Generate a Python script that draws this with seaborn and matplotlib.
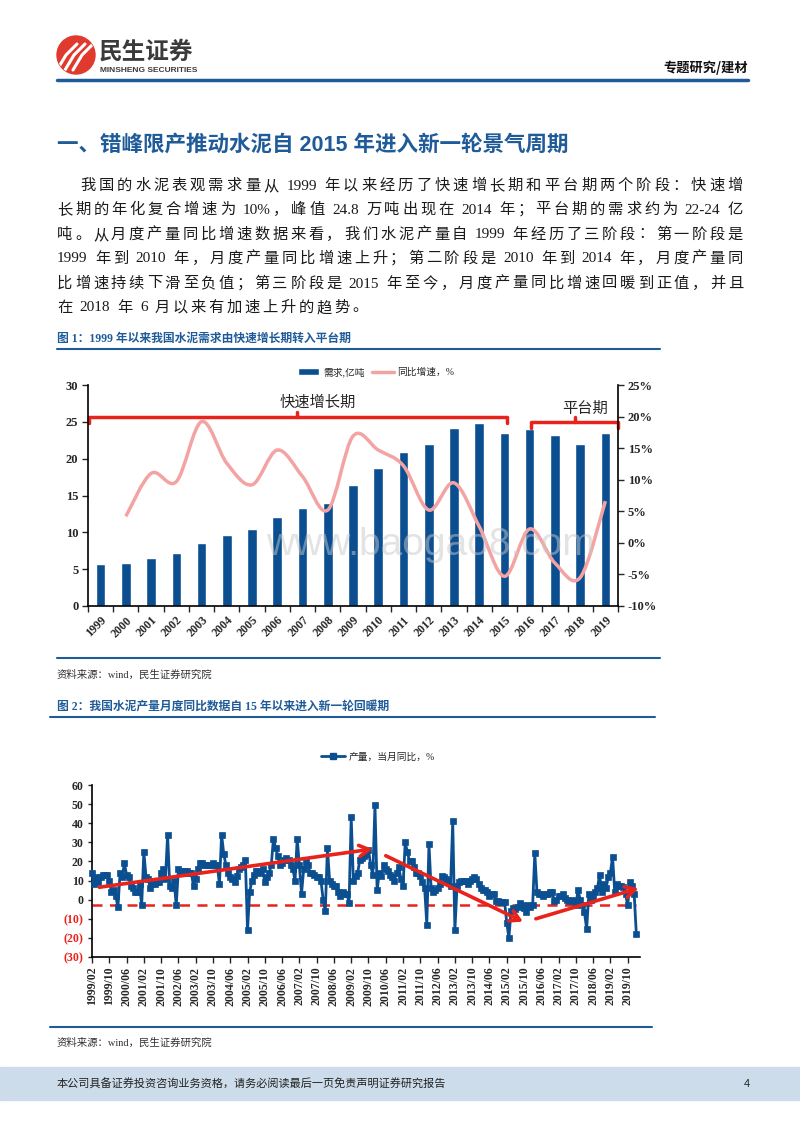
import re
import matplotlib
matplotlib.use("Agg")
import matplotlib.pyplot as plt
import numpy as np
import pandas as pd
import seaborn as sns
from matplotlib.lines import Line2D
from matplotlib.patches import Ellipse, Rectangle, PathPatch, Patch
from matplotlib.path import Path

# ---- chart 1: annual apparent cement demand (亿吨) and yoy growth (%)
years = [str(y) for y in range(1999, 2020)]
demand = [5.65, 5.9, 6.55, 7.2, 8.6, 9.6, 10.5, 12.05, 13.3, 14.0, 16.4,
          18.75, 20.9, 22.0, 24.1, 24.8, 23.5, 24.0, 23.2, 22.0, 23.5]
growth_years = years[1:]
growth = [4.2, 11.0, 9.7, 19.2, 12.6, 9.2, 14.7, 10.5, 5.2, 16.9,
          14.7, 12.2, 5.2, 9.5, 2.6, -5.3, 2.2, -3.2, -5.5, 6.6]

# ---- chart 2: monthly cement output yoy (%), 1999/02 .. 2020/02
monthly_yoy = [
    14, 8, 12, 9, 12, 13, 13, 13, 10, 4, 5,                 # 1999 (Feb-Dec)
    2, -4, 14, 12, 19, 13, 12, 7, 6, 4, 4, 8,                # 2000
    -3, 25, 12, 11, 6, 8, 8, 9, 9, 14, 16, 11,               # 2001
    34, 7, 6, 10, -3, 16, 15, 14, 15, 15, 14, 14,            # 2002
    7, 11, 16, 19, 19, 18, 18, 18, 18, 19, 18, 18,           # 2003
    8, 34, 24, 18, 14, 12, 11, 9, 12.5, 16, 17, 18,          # 2004
    21, -16, 4, 10, 13, 15, 15, 14, 16, 9, 12, 14,           # 2005
    18, 32, 27, 23, 18, 19, 21, 22, 21, 18, 16, 10,          # 2006
    32, 18, 3, 16, 20, 18, 14, 14, 13, 12, 12, 10,           # 2007
    0, -6, 27, 10, 8, 7, 7, 4, 2, 4, 3, 3,                   # 2008
    -1.5, 43, 10, 12.5, 14, 21, 22, 23, 24, 26, 18, 13,      # 2009
    49.5, 5, 14, 12.5, 18, 16, 15, 13, 12, 10, 14, 17,       # 2010
    11, 7, 30, 25, 20, 20, 17, 14, 14, 12.5, 9, 6,           # 2011
    -13, 29, 6, 4, 5, 6, 8, 12.5, 12, 11, 10, 7,             # 2012
    41, -16, 7, 9, 10, 10, 10, 8, 10, 11, 12, 11,            # 2013
    8, 6, 5, 5, 4, 2, 3, 3, -0.5, -0.5, -1.4, -1.4,          # 2014
    -1, -12, -20, -6, -4.5, -5, -4, -2, -3, -4.5, -6.3, -3,  # 2015
    -4, -3, 24.4, 4, 3, 3, 2, 3, 3, 4, 4, -0.5,              # 2016
    0, 2, 2, 3, 1, 0, -0.5, 0, -0.5, -3, 5, 0,               # 2017
    -3, -6.6, -15.4, 3, 0, 2, 4, 6, 13, 4, 8, 6,             # 2018
    12, 14, 22.5, 4, 8, 7, 7, 6.5, 3, -3, 9, 7,              # 2019
    3, -18,                                                  # 2020
]
month_ticks = ["1999/02", "1999/10", "2000/06", "2001/02", "2001/10", "2002/06",
               "2003/02", "2003/10", "2004/06", "2005/02", "2005/10", "2006/06",
               "2007/02", "2007/10", "2008/06", "2009/02", "2009/10", "2010/06",
               "2011/02", "2011/10", "2012/06", "2013/02", "2013/10", "2014/06",
               "2015/02", "2015/10", "2016/06", "2017/02", "2017/10", "2018/06",
               "2019/02", "2019/10"]

paragraph = [
    "我国的水泥表观需求量从 1999 年以来经历了快速增长期和平台期两个阶段：快速增",
    "长期的年化复合增速为 10%，峰值 24.8 万吨出现在 2014 年；平台期的需求约为 22-24 亿",
    "吨。从月度产量同比增速数据来看，我们水泥产量自 1999 年经历了三阶段：第一阶段是",
    "1999 年到 2010 年，月度产量同比增速上升；第二阶段是 2010 年到 2014 年，月度产量同",
    "比增速持续下滑至负值；第三阶段是 2015 年至今，月度产量同比增速回暖到正值，并且",
    "在 2018 年 6 月以来有加速上升的趋势。",
]

RED = "#e8231c"
BLUE = "#0b4f91"
PINK = "#f4a3a3"
HDR = "#1f5b98"

sns.set_style("ticks")
CJK = ["Noto Sans CJK SC", "DejaVu Sans"]
SERIF = ["Liberation Serif", "Noto Sans CJK SC"]
SANS = ["Liberation Sans", "Noto Sans CJK SC"]
plt.rcParams["font.family"] = SERIF
plt.rcParams["axes.unicode_minus"] = False

W, H = 800, 1132
fig = plt.figure(figsize=(W / 100, H / 100), dpi=100)


def fx(px):
    return px / W


def fy(py):
    return 1 - py / H


def hline(y, x0, x1, color=HDR, lw=1.5):
    fig.add_artist(Line2D([fx(x0), fx(x1)], [fy(y), fy(y)], color=color, lw=lw,
                          transform=fig.transFigure))


def tok_w(tok):
    w = 0
    for ch in tok:
        if ord(ch) > 0x2000:
            w += 1.0
        else:
            w += {" ": 0.3, "%": 0.83, ".": 0.25, "-": 0.33}.get(ch, 0.5)
    return w


def text_line(txt, x0, x1, y, size, gap=None):
    # crude justification: latin runs (with their spaces) stay together,
    # the spare width is spread between tokens
    em = size * 100 / 72
    toks = re.findall(r" ?[\x21-\x7e]+ ?|.", txt)
    widths = [tok_w(t) * em for t in toks]
    if gap is None:
        gap = (x1 - x0 - sum(widths)) / (len(toks) - 1)
    x = x0
    for t, w in zip(toks, widths):
        lead = tok_w(t[:len(t) - len(t.lstrip())]) * em
        fig.text(fx(x + lead), fy(y), t.strip(), fontsize=size, family=SERIF,
                 color="#1a1a1a", ha="left", va="center")
        x += w + gap
    return gap


# ---- page header
logo = Ellipse((fx(76), fy(55)), fx(38), 38 / H, color="#e03a2f", transform=fig.transFigure)
fig.add_artist(logo)
for dx in (-7, 1, 9):
    ln = Line2D([fx(64 + dx), fx(73 + dx), fx(84 + dx)], [fy(70), fy(55), fy(44)],
                color="white", lw=2.2, transform=fig.transFigure)
    fig.add_artist(ln)
    ln.set_clip_path(logo)
fig.text(fx(99), fy(52), "民生证券", fontsize=17, fontweight="bold", color="#3b3b3b",
         family=CJK, va="center")
fig.text(fx(100), fy(70.5), "MINSHENG SECURITIES", fontsize=6, fontweight="bold",
         color="#3b3b3b", family=["Liberation Sans"], va="center")
fig.text(fx(748), fy(68), "专题研究/建材", fontsize=9.5, fontweight="bold", color="#111111",
         family=CJK, ha="right", va="center")
hline(80, 57, 748, lw=2.5)

fig.text(fx(57), fy(145), "一、错峰限产推动水泥自 2015 年进入新一轮景气周期", fontsize=15.5,
         fontweight="bold", color=HDR, family=SANS, va="center")

ys = [186, 210, 235, 259, 284, 308]
g = 0
for i, (line, y) in enumerate(zip(paragraph, ys)):
    x0 = 80 if i == 0 else 57
    if i < len(paragraph) - 1:
        g = text_line(line, x0, 743, y, 11)
    else:
        text_line(line, x0, 743, y, 11, gap=g)

# ---- figure 1
fig.text(fx(57), fy(339), "图 1：1999 年以来我国水泥需求由快速增长期转入平台期", fontsize=8.5,
         fontweight="bold", color=HDR, family=SERIF, va="center")
hline(349, 57, 660)

ax1 = fig.add_axes([fx(88), fy(606), fx(618) - fx(88), (606 - 385) / H])
df1 = pd.DataFrame({"year": years, "demand": demand})
sns.barplot(data=df1, x="year", y="demand", ax=ax1, color=BLUE, width=0.38, saturation=1)
ax1.set_xlim(-0.5, 20.5)
ax1.set_ylim(0, 30)
ax1.set_yticks(range(0, 31, 5))
ax1.set_xlabel("")
ax1.set_ylabel("")
ax1.set_xticks(range(len(years)))
ax1.set_xticklabels(years, rotation=45, ha="right", rotation_mode="anchor")
ax1.set_xticks(np.arange(-0.5, 21, 1), minor=True)
ax1.tick_params(axis="x", which="major", length=0, pad=6, labelsize=8.5)
ax1.tick_params(axis="x", which="minor", length=4, width=1, direction="out")
ax1.tick_params(axis="y", length=4, width=1, direction="out", labelsize=9, pad=3)
for lab in ax1.get_xticklabels() + ax1.get_yticklabels():
    lab.set_fontweight("bold")
ax1.spines["top"].set_visible(False)
ax1.spines["right"].set_visible(False)
for s in ("left", "bottom"):
    ax1.spines[s].set_linewidth(1.2)
    ax1.spines[s].set_color("black")

ax1b = ax1.twinx()
ax1b.set_ylim(-10, 25)
ax1b.set_yticks(range(-10, 26, 5))
ax1b.set_yticklabels([f"{v}%" for v in range(-10, 26, 5)])
ax1b.tick_params(axis="y", length=4, width=1, direction="out", labelsize=9, pad=3)
for lab in ax1b.get_yticklabels():
    lab.set_fontweight("bold")
ax1b.spines["top"].set_visible(False)
ax1b.spines["left"].set_visible(False)
ax1b.spines["bottom"].set_visible(False)
ax1b.spines["right"].set_linewidth(1.2)
ax1b.spines["right"].set_color("black")

# smoothed growth line (Bezier through the yearly points)
gx = np.array([years.index(y) for y in growth_years], dtype=float)
pts = np.column_stack([gx, growth])
verts, codes = [pts[0]], [Path.MOVETO]
for i in range(len(pts) - 1):
    p0 = pts[i - 1] if i > 0 else pts[i]
    p1, p2 = pts[i], pts[i + 1]
    p3 = pts[i + 2] if i + 2 < len(pts) else pts[i + 1]
    verts += [p1 + (p2 - p0) / 6, p2 - (p3 - p1) / 6, p2]
    codes += [Path.CURVE4] * 3
ax1b.add_patch(PathPatch(Path(verts, codes), fill=False, edgecolor=PINK, lw=2.5))

# phase brackets
def bracket(ax, x0, x1, xc, y, hook=0.8, tick=0.7):
    ax.plot([x0, x0, x1, x1], [y - hook, y, y, y - hook], color=RED, lw=2.5,
            clip_on=False, solid_joinstyle="round")
    ax.plot([xc, xc], [y, y + tick], color=RED, lw=2.5, clip_on=False)

bracket(ax1, -0.46, 16.1, 7.8, 25.65)
bracket(ax1, 17.05, 20.5, 18.8, 24.95)
ax1.text(8.6, 27.6, "快速增长期", fontsize=11, family=CJK, ha="center", va="center")
ax1.text(19.2, 26.8, "平台期", fontsize=11, family=CJK, ha="center", va="center")

fig.legend(handles=[Patch(facecolor=BLUE), Line2D([], [], color=PINK, lw=2.5)],
           labels=["需求,亿吨", "同比增速，%"], loc="center",
           bbox_to_anchor=(fx(376), fy(372)), ncol=2, frameon=False,
           prop={"family": SERIF, "size": 7}, handlelength=2.2, handleheight=0.6,
           columnspacing=0.8, handletextpad=0.4)

fig.text(fx(430), fy(545), "www.baogao8.com", fontsize=28, color="#c8c8c8", alpha=0.5,
         family=["Liberation Sans"], ha="center", va="center", zorder=10)

hline(658, 57, 660)
fig.text(fx(57), fy(675), "资料来源：wind，民生证券研究院", fontsize=7.5, color="#333333",
         family=SERIF, va="center")

# ---- figure 2
fig.text(fx(57), fy(707), "图 2：我国水泥产量月度同比数据自 15 年以来进入新一轮回暖期",
         fontsize=8.5, fontweight="bold", color=HDR, family=SERIF, va="center")
hline(717, 50, 655)

ax2 = fig.add_axes([fx(92), fy(957), fx(640) - fx(92), (957 - 785) / H])
df2 = pd.DataFrame({"idx": np.arange(len(monthly_yoy)), "yoy": monthly_yoy})
sns.lineplot(data=df2, x="idx", y="yoy", ax=ax2, color=BLUE, linewidth=2, marker="s",
             markersize=5, markeredgecolor=BLUE, markeredgewidth=0.5, clip_on=False,
             zorder=3)
ax2.set_xlim(0, 253.7)
ax2.set_ylim(-30, 60)
ax2.set_xlabel("")
ax2.set_ylabel("")
yt = list(range(-30, 61, 10))
ax2.set_yticks(yt)
ax2.set_yticklabels([f"({abs(v)})" if v < 0 else str(v) for v in yt])
for v, lab in zip(yt, ax2.get_yticklabels()):
    lab.set_fontweight("bold")
    if v < 0:
        lab.set_color(RED)
ax2.set_xticks(range(0, 8 * len(month_ticks), 8))
ax2.set_xticklabels(month_ticks, rotation=90)
for lab in ax2.get_xticklabels():
    lab.set_fontweight("bold")
ax2.tick_params(axis="x", length=4, width=1, direction="out", labelsize=8.5, pad=3)
ax2.tick_params(axis="y", length=3, width=1, direction="out", labelsize=8.5, pad=3)
ax2.spines["top"].set_visible(False)
ax2.spines["right"].set_visible(False)
for s in ("left", "bottom"):
    ax2.spines[s].set_linewidth(1.2)
    ax2.spines[s].set_color("black")

ax2.axhline(-3, xmin=0, xmax=0.992, color=RED, lw=1.8, ls=(0, (4, 3)), zorder=2)
trend_arrows = [((3.4, 6.5), (129.9, 26.5)),
                ((136, 23), (199.5, -11.5)),
                ((205.5, -10), (253, 6))]
for start, end in trend_arrows:
    ax2.annotate("", xy=end, xytext=start, annotation_clip=False, zorder=4,
                 arrowprops=dict(arrowstyle="->,head_length=0.7,head_width=0.4",
                                 color=RED, lw=2.6, shrinkA=0, shrinkB=0))

fig.legend(handles=[Line2D([], [], color=BLUE, lw=2, marker="s", markersize=4.5)],
           labels=["产量，当月同比，%"], loc="center", bbox_to_anchor=(fx(378), fy(757)),
           frameon=False, prop={"family": SERIF, "size": 7}, handlelength=2.4,
           handletextpad=0.4)

hline(1027, 50, 652)
fig.text(fx(57), fy(1043), "资料来源：wind，民生证券研究院", fontsize=7.5, color="#333333",
         family=SERIF, va="center")

# ---- footer band
fig.add_artist(Rectangle((0, fy(1100)), 1, 33 / H, transform=fig.transFigure,
                         color="#cddcea", zorder=0))
fig.text(fx(57), fy(1084), "本公司具备证券投资咨询业务资格，请务必阅读最后一页免责声明证券研究报告",
         fontsize=8, color="#222222", family=CJK, va="center")
fig.text(fx(744), fy(1084), "4", fontsize=8, color="#222222", family=SANS, va="center")

fig.savefig("out.png", dpi=100)
